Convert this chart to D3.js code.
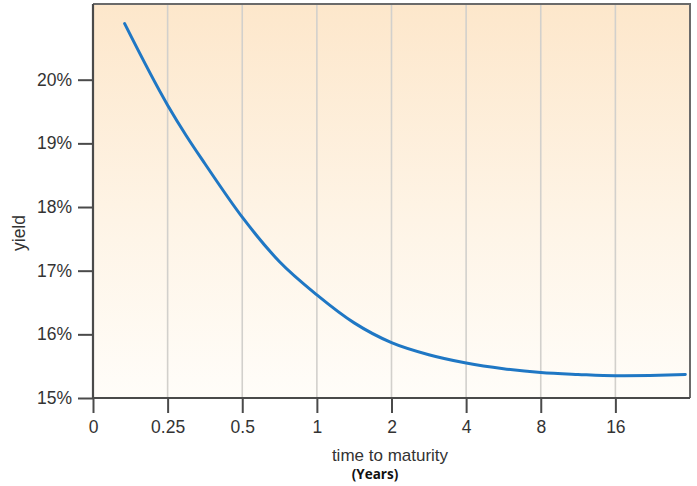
<!DOCTYPE html>
<html>
<head>
<meta charset="utf-8">
<script src="https://cdn.jsdelivr.net/npm/d3@7"></script>
<style>
  html, body { margin: 0; padding: 0; background: #ffffff; }
  svg { display: block; }
</style>
</head>
<body>
<svg id="chart" width="697" height="486"></svg>
<script>
// ---- data ----
const xTickValues = [0, 0.25, 0.5, 1, 2, 4, 8, 16];
const xTickLabels = ["0", "0.25", "0.5", "1", "2", "4", "8", "16"];
const xDomainBreaks = [0, 0.25, 0.5, 1, 2, 4, 8, 16, 32];
const yTickValues = [15, 16, 17, 18, 19, 20];
const yTickLabels = ["15%", "16%", "17%", "18%", "19%", "20%"];
const maturity = [0.106, 0.25, 0.3125, 0.375, 0.5, 0.75, 1, 1.5, 2, 3, 4, 6, 8, 12, 16, 23.4, 31];
const yieldPct = [20.88, 19.60, 19.12, 18.68, 17.84, 17.14, 16.62, 16.18, 15.87, 15.68, 15.55, 15.46, 15.40, 15.37, 15.35, 15.355, 15.37];

// ---- layout ----
const W = 697, H = 486;
const m = { left: 93, right: 7, top: 4, bottom: 88 };
const x0 = m.left, x1 = W - m.right, y0 = H - m.bottom, y1 = m.top;

const svg = d3.select("#chart");

const step = (x1 - x0) / (xDomainBreaks.length - 1);
const x = d3.scaleLinear()
  .domain(xDomainBreaks)
  .range(xDomainBreaks.map((d, i) => x0 + i * step));
const y = d3.scaleLinear().domain([15, 15 + (y0 - y1) / 63.66]).range([y0, y1]);

// background gradient
const defs = svg.append("defs");
const grad = defs.append("linearGradient").attr("id", "bg").attr("x1", 0).attr("y1", 0).attr("x2", 0).attr("y2", 1);
grad.append("stop").attr("offset", "0%").attr("stop-color", "#fde7cb");
grad.append("stop").attr("offset", "55%").attr("stop-color", "#fef4e6");
grad.append("stop").attr("offset", "100%").attr("stop-color", "#fffdf9");

svg.append("rect")
  .attr("x", x0).attr("y", y1)
  .attr("width", x1 - x0).attr("height", y0 - y1)
  .attr("fill", "url(#bg)");

// vertical gridlines
svg.append("g").selectAll("line")
  .data(xTickValues.slice(1))
  .join("line")
  .attr("x1", d => x(d)).attr("x2", d => x(d))
  .attr("y1", y1).attr("y2", y0)
  .attr("stroke", "#d2d0cc").attr("stroke-width", 1.6);

// frame (top and right)
svg.append("path")
  .attr("d", `M${x0},${y1}H${x1}V${y0}`)
  .attr("fill", "none").attr("stroke", "#6a6a6a").attr("stroke-width", 2);

// axes
const xAxis = d3.axisBottom(x)
  .tickValues(xTickValues)
  .tickFormat((d, i) => xTickLabels[i])
  .tickSize(15).tickPadding(8);
const gx = svg.append("g").attr("transform", `translate(0,${y0})`).call(xAxis);

const yAxis = d3.axisLeft(y)
  .tickValues(yTickValues)
  .tickFormat((d, i) => yTickLabels[i])
  .tickSize(15).tickPadding(6);
const gy = svg.append("g").attr("transform", `translate(${x0},0)`).call(yAxis);

[gx, gy].forEach(g => {
  g.select(".domain").remove();
  g.selectAll(".tick line").attr("stroke", "#4a4a4a").attr("stroke-width", 2);
  g.selectAll(".tick text")
    .attr("fill", "#333")
    .style("font-family", "'Liberation Sans', Arial, Helvetica, sans-serif")
    .style("font-size", "17.5px");
});

// axis lines (left & bottom)
svg.append("path")
  .attr("d", `M${x0},${y1}V${y0}H${x1}`)
  .attr("fill", "none").attr("stroke", "#4a4a4a").attr("stroke-width", 2.2);

// curve
const line = d3.line()
  .x((d, i) => x(maturity[i]))
  .y(d => y(d))
  .curve(d3.curveMonotoneX);
svg.append("path")
  .datum(yieldPct)
  .attr("d", line)
  .attr("fill", "none")
  .attr("stroke", "#1f77c4")
  .attr("stroke-width", 3)
  .attr("stroke-linecap", "round");

// axis titles
svg.append("text")
  .attr("x", 390).attr("y", 461)
  .attr("text-anchor", "middle")
  .attr("fill", "#333")
  .style("font-family", "'Liberation Sans', Arial, Helvetica, sans-serif")
  .style("font-size", "17px")
  .text("time to maturity");

svg.append("text")
  .attr("x", 375).attr("y", 479)
  .attr("text-anchor", "middle")
  .attr("fill", "#111")
  .style("font-family", "'Open Sans', 'DejaVu Sans', sans-serif")
  .style("font-weight", "700")
  .style("font-size", "13.5px")
  .text("(Years)");

svg.append("text")
  .attr("transform", "translate(25,233) rotate(-90)")
  .attr("text-anchor", "middle")
  .attr("fill", "#333")
  .style("font-family", "'Liberation Sans', Arial, Helvetica, sans-serif")
  .style("font-size", "17.5px")
  .text("yield");
</script>
</body>
</html>
